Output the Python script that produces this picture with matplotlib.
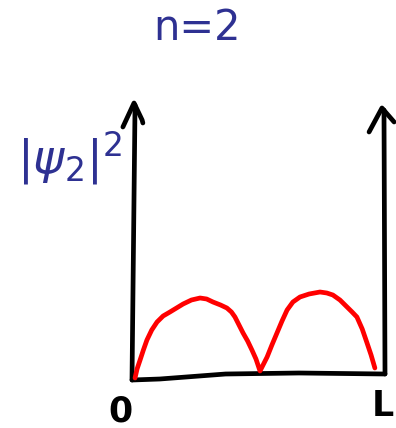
import matplotlib
matplotlib.use("Agg")
import matplotlib.pyplot as plt

# Probability density |psi_2|^2 across the well, position in units of L
x_pos = [0.012, 0.020, 0.032, 0.045, 0.059, 0.078, 0.099, 0.123, 0.150, 0.176,
         0.202, 0.235, 0.269, 0.295, 0.320, 0.350, 0.375, 0.393, 0.407, 0.423,
         0.439, 0.457, 0.474, 0.490, 0.506, 0.520, 0.534, 0.553, 0.573, 0.593,
         0.613, 0.636, 0.664, 0.700, 0.743, 0.770, 0.794, 0.822, 0.850, 0.870,
         0.889, 0.910, 0.929, 0.945, 0.960]
density = [0.00, 0.09, 0.18, 0.28, 0.38, 0.48, 0.56, 0.62, 0.66, 0.70,
           0.74, 0.78, 0.80, 0.79, 0.76, 0.73, 0.70, 0.66, 0.61, 0.53,
           0.45, 0.37, 0.28, 0.19, 0.07, 0.14, 0.21, 0.33, 0.45, 0.57,
           0.68, 0.76, 0.81, 0.84, 0.86, 0.85, 0.83, 0.78, 0.71, 0.66,
           0.61, 0.49, 0.35, 0.23, 0.10]

# Hand-drawn floor of the well
floor_x = [0.0, 0.11, 0.37, 0.66, 1.0]
floor_y = [-0.02, -0.01, 0.04, 0.05, 0.04]

title_text = "n=2"
ylabel_text = r"$|\psi_2|^2$"
xtick_labels = ["0", "L"]

INK = "#2e3192"
W, H, DPI = 396, 428, 100

fig = plt.figure(figsize=(W / DPI, H / DPI), dpi=DPI)
ax = fig.add_axes([0, 0, 1, 1])
# 1 unit in x = 253 px (0 at px 132); 1 unit in y = 100 px (0 at px 378)
ax.set_xlim(-132 / 253, (W - 132) / 253)
ax.set_ylim(-(H - 378) / 100, 378 / 100)
ax.axis("off")

lw = 3.4
# walls with arrowheads
ax.plot([0.0, 0.012], [-0.02, 2.73], color="black", lw=lw, solid_capstyle="round")
ax.plot([-0.036, 0.008, 0.040, 0.043], [2.51, 2.75, 2.58, 2.55], color="black", lw=lw,
        solid_capstyle="round", solid_joinstyle="round")
ax.plot([1.0, 0.996], [0.04, 2.68], color="black", lw=lw, solid_capstyle="round")
ax.plot([0.937, 0.988, 1.036], [2.46, 2.70, 2.56], color="black", lw=lw,
        solid_capstyle="round", solid_joinstyle="round")
ax.plot(floor_x, floor_y, color="black", lw=lw, solid_capstyle="round")

# density curve
ax.plot(x_pos, density, color="red", lw=3.4, solid_capstyle="round",
        solid_joinstyle="round")

# labels
ax.text((197 - 132) / 253, (378 - 28) / 100, title_text, color=INK, fontsize=30,
        ha="center", va="center")
ax.text((70 - 132) / 253, (378 - 158) / 100, ylabel_text, color=INK, fontsize=34,
        ha="center", va="center")
ax.text((120 - 132) / 253, (378 - 412) / 100, xtick_labels[0], color="black",
        fontsize=25, fontweight="bold", ha="center", va="center")
ax.text((383 - 132) / 253, (378 - 406) / 100, xtick_labels[1], color="black",
        fontsize=25, fontweight="bold", ha="center", va="center")

fig.savefig("out.png", dpi=DPI)
